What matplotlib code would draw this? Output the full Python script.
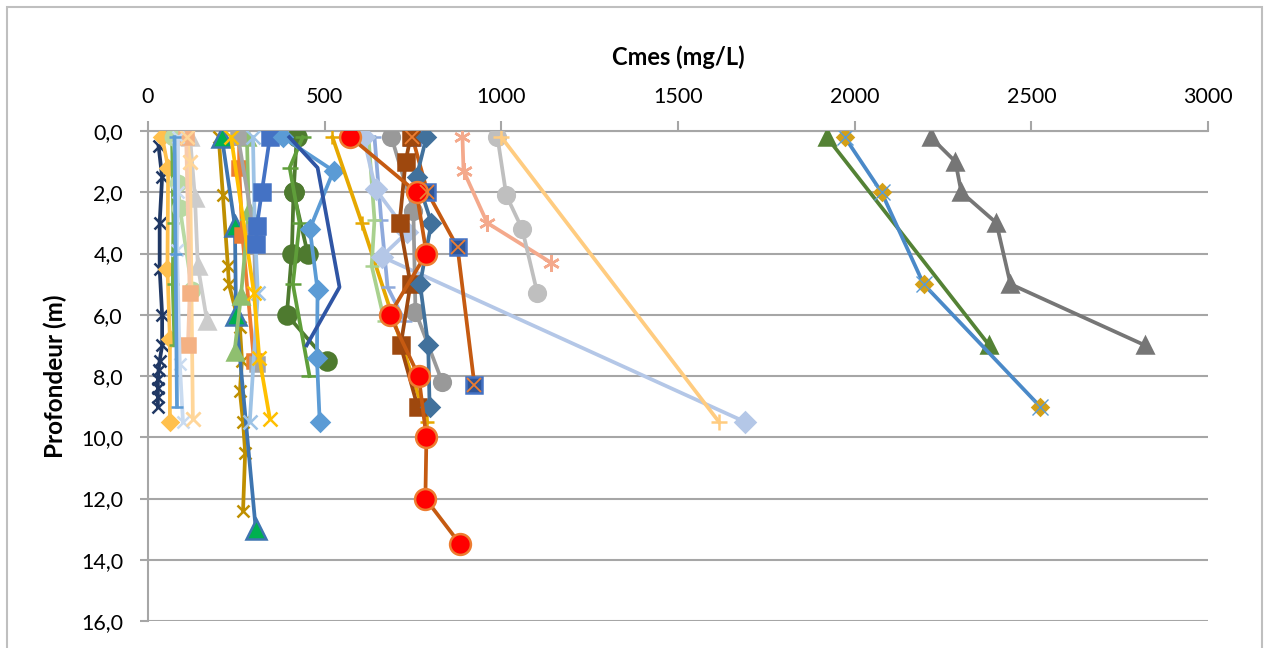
import matplotlib
matplotlib.use("Agg")
import matplotlib.pyplot as plt
from matplotlib.patches import Rectangle
from matplotlib.ticker import FuncFormatter, MultipleLocator

plt.rcParams["font.family"] = ["Lato", "DejaVu Sans"]

# Suspended matter profiles: depth (m) and concentration Cmes (mg/L)
navy_depth = [0.5, 1.5, 3.0, 4.5, 6.0, 7.0, 7.5, 7.8, 8.1, 8.4, 8.7, 9.0]
navy_cmes = [30, 40, 33, 33, 40, 40, 33, 30, 28, 28, 28, 28]

golddia_depth = [0.2, 1.2, 4.5, 6.8, 9.5]
golddia_cmes = [40, 57, 55, 62, 62]

greendash_depth = [0.2, 3.0, 5.0, 7.0]
greendash_cmes = [68, 72, 70, 75]

palegreen_depth = [0.2, 1.7, 2.5, 5.2]
palegreen_cmes = [71, 85, 90, 125]

paletri_depth = [0.2, 2.2, 4.4, 6.2]
paletri_cmes = [119, 133, 141, 167]

peach_depth = [0.2, 1.0, 9.4]
peach_cmes = [110, 119, 127]

salmonsq_depth = [0.2, 5.3, 7.0]
salmonsq_cmes = [108, 118, 113]

paleblue_depth = [0.2, 2.0, 3.9, 7.6, 9.5]
paleblue_cmes = [85, 85, 82, 90, 99]

thinblue_depth = [0.2, 4.0, 9.0]
thinblue_cmes = [75, 78, 82]

olive_depth = [0.2, 2.1, 4.4, 5.0, 6.4, 7.5, 8.5, 9.5, 10.5, 12.4]
olive_cmes = [200, 212, 226, 229, 260, 266, 260, 269, 275, 269]

bluetri_depth = [0.2, 3.1, 6.0, 13.0]
bluetri_cmes = [209, 246, 249, 305]

orangesq_depth = [0.2, 1.2, 3.4, 7.5]
orangesq_cmes = [258, 258, 267, 300]

greentri_light_depth = [0.2, 2.6, 5.4, 7.2]
greentri_light_cmes = [280, 285, 263, 245]

graysq_depth = [0.2, 3.3, 7.6]
graysq_cmes = [255, 300, 308]

skyx_depth = [0.2, 3.1, 5.3, 9.5]
skyx_cmes = [297, 302, 311, 288]

goldx_depth = [0.2, 5.3, 7.4, 9.4]
goldx_cmes = [235, 300, 315, 345]

bluesq_depth = [0.2, 2.0, 3.1, 3.7]
bluesq_cmes = [345, 322, 308, 306]

darkgreen_depth = [0.2, 2.0, 4.0, 6.0, 7.5]
darkgreen_cmes = [421, 412, 407, 393, 506]

darkgreen_b_depth = [2.0, 4.0]
darkgreen_b_cmes = [412, 452]

greendash_b_depth = [0.2, 1.2, 3.0, 5.0, 8.0]
greendash_b_cmes = [438, 401, 429, 410, 457]

meddia_depth = [0.2, 1.3, 3.2, 5.2, 7.4, 9.5]
meddia_cmes = [381, 525, 458, 480, 478, 486]

royal_depth = [0.2, 1.2, 5.1, 7.0]
royal_cmes = [400, 480, 542, 449]

goldplus_depth = [0.2, 3.0, 9.5]
goldplus_cmes = [522, 605, 790]

lavender_depth = [0.2, 2.9, 5.1, 6.2]
lavender_cmes = [641, 660, 678, 726]

sagedash_depth = [0.2, 2.9, 4.4, 6.2]
sagedash_cmes = [624, 641, 633, 669]

icedia_depth = [0.2, 1.9, 3.3, 4.1, 9.5]
icedia_cmes = [610, 644, 734, 661, 1690]

graycirc_depth = [0.2, 2.6, 5.9, 8.2]
graycirc_cmes = [689, 751, 757, 833]

bluexsq_depth = [0.2, 2.0, 3.8, 8.3]
bluexsq_cmes = [748, 791, 876, 924]

brownsq_depth = [0.2, 1.0, 3.0, 5.0, 7.0, 9.0]
brownsq_cmes = [743, 729, 712, 743, 715, 763]

slate_depth = [0.2, 1.5, 3.0, 5.0, 7.0, 9.0]
slate_cmes = [788, 760, 802, 770, 793, 797]

red_depth = [0.2, 2.0, 4.0, 6.0, 8.0, 10.0, 12.0, 13.5]
red_cmes = [573, 760, 788, 684, 766, 788, 785, 884]

star_depth = [0.2, 1.3, 3.0, 4.3]
star_cmes = [890, 893, 960, 1141]

silver_depth = [0.2, 2.1, 3.2, 5.3]
silver_cmes = [989, 1014, 1059, 1102]

apricot_depth = [0.2, 9.5]
apricot_cmes = [1000, 1616]

darkgray_depth = [0.2, 1.0, 2.0, 3.0, 5.0, 7.0]
darkgray_cmes = [2215, 2285, 2302, 2401, 2441, 2822]

green_depth = [0.2, 7.0]
green_cmes = [1921, 2381]

blueright_depth = [0.2, 2.0, 5.0, 9.0]
blueright_cmes = [1972, 2076, 2195, 2525]

STAR = (6, 2, 0)

# (depth, cmes, line colour, marker, marker face, marker edge, size)
profiles = [
    (navy_depth, navy_cmes, "#203864", "x", None, None, 9),
    (golddia_depth, golddia_cmes, "#ffc04d", "D", None, None, 8),
    (greendash_depth, greendash_cmes, "#70ad47", "_", None, None, 9),
    (palegreen_depth, palegreen_cmes, "#b9d9a3", "o", None, None, 11),
    (paletri_depth, paletri_cmes, "#cccccc", "^", None, None, 11),
    (peach_depth, peach_cmes, "#ffd699", "x", None, None, 10),
    (salmonsq_depth, salmonsq_cmes, "#f8cbad", "s", "#f4b183", "#f4b183", 10),
    (paleblue_depth, paleblue_cmes, "#c9dbf0", "x", None, None, 9),
    (thinblue_depth, thinblue_cmes, "#5b9bd5", "_", None, None, 8),
    (olive_depth, olive_cmes, "#bf8f00", "x", None, None, 9),
    (bluetri_depth, bluetri_cmes, "#3e75b0", "^", "#00b050", "#3e75b0", 14),
    (orangesq_depth, orangesq_cmes, "#ed7d31", "s", None, None, 10),
    (greentri_light_depth, greentri_light_cmes, "#8fbf6f", "^", None, None, 11),
    (graysq_depth, graysq_cmes, "#a5a5a5", "s", None, None, 10),
    (skyx_depth, skyx_cmes, "#9dc3e6", "x", None, None, 10),
    (goldx_depth, goldx_cmes, "#ffc000", "x", None, None, 10),
    (bluesq_depth, bluesq_cmes, "#4472c4", "s", None, None, 11),
    (darkgreen_depth, darkgreen_cmes, "#4e7a2f", "o", None, None, 13),
    (darkgreen_b_depth, darkgreen_b_cmes, "#4e7a2f", "o", None, None, 13),
    (greendash_b_depth, greendash_b_cmes, "#5f9e3a", "_", None, None, 11),
    (meddia_depth, meddia_cmes, "#5b9bd5", "D", None, None, 9),
    (royal_depth, royal_cmes, "#2f55a4", "", None, None, 8),
    (goldplus_depth, goldplus_cmes, "#e6a800", "+", None, None, 10),
    (lavender_depth, lavender_cmes, "#8faadc", "_", None, None, 10),
    (sagedash_depth, sagedash_cmes, "#a9d18e", "_", None, None, 10),
    (icedia_depth, icedia_cmes, "#b4c7e7", "D", None, None, 10),
    (graycirc_depth, graycirc_cmes, "#999999", "o", None, None, 12),
    (bluexsq_depth, bluexsq_cmes, "#c55a11", "s", "#2f5597", "#4472c4", 12),
    (brownsq_depth, brownsq_cmes, "#9e480e", "s", None, None, 12),
    (slate_depth, slate_cmes, "#41719c", "D", None, None, 9),
    (red_depth, red_cmes, "#c55a11", "o", "#ff0000", "#ed7d31", 15),
    (star_depth, star_cmes, "#f4a98c", STAR, None, None, 12),
    (silver_depth, silver_cmes, "#bfbfbf", "o", None, None, 12),
    (apricot_depth, apricot_cmes, "#ffcc80", "+", None, None, 11),
    (darkgray_depth, darkgray_cmes, "#767676", "^", None, None, 12),
    (green_depth, green_cmes, "#548235", "^", None, None, 12),
    (blueright_depth, blueright_cmes, "#4a89c8", "D", "#d4a017", "#d4a017", 8),
]

fig = plt.figure(figsize=(12.68, 6.48), dpi=100)
ax = fig.add_axes([148 / 1268, 1 - 621 / 648, 1060 / 1268, 490 / 648])

for depth, cmes, color, marker, face, edge, size in profiles:
    ax.plot(cmes, depth, color=color, lw=2.7, marker=marker, ms=size,
            mfc=face or color, mec=edge or color, mew=1.8, zorder=3)

# crosses drawn over the square / diamond markers
ax.plot(bluexsq_cmes, bluexsq_depth, ls="none", marker="x", ms=10,
        mec="#ed7d31", mew=1.3, zorder=4)
ax.plot(blueright_cmes, blueright_depth, ls="none", marker="x", ms=11,
        mec="#5b9bd5", mew=1.0, zorder=4)
ax.plot(peach_cmes, peach_depth, ls="none", marker="x", ms=10,
        mec="#ffd699", mew=1.8, zorder=4)

ax.set_xlim(0, 3000)
ax.set_ylim(16, 0)
ax.xaxis.set_major_locator(MultipleLocator(500))
ax.yaxis.set_major_locator(MultipleLocator(2))
ax.yaxis.set_major_formatter(FuncFormatter(lambda v, _: f"{v:.1f}".replace(".", ",")))
ax.xaxis.tick_top()
ax.xaxis.set_label_position("top")

ax.grid(axis="y", color="#a6a6a6", lw=1.5)
ax.set_axisbelow(True)
for side in ["right", "bottom"]:
    ax.spines[side].set_visible(False)
for side in ["top", "left"]:
    ax.spines[side].set_color("#a6a6a6")
    ax.spines[side].set_linewidth(1.5)

ax.tick_params(axis="x", length=7, width=1.5, color="#a6a6a6", pad=10,
               labelsize=15.5)
ax.tick_params(axis="y", length=6, width=1.5, color="#a6a6a6", pad=12,
               labelsize=15.5)

ax.set_xlabel("Cmes (mg/L)", fontsize=17, fontweight="bold", labelpad=16)
ax.set_ylabel("Profondeur (m)", fontsize=17.5, fontweight="bold", labelpad=10)

# chart area frame
fig.patches.append(Rectangle((7 / 1268, -0.1), 1255 / 1268, 1.1 - 7 / 648,
                             transform=fig.transFigure, fill=False,
                             edgecolor="#bfbfbf", lw=1.5))

fig.savefig("out.png", dpi=100)
